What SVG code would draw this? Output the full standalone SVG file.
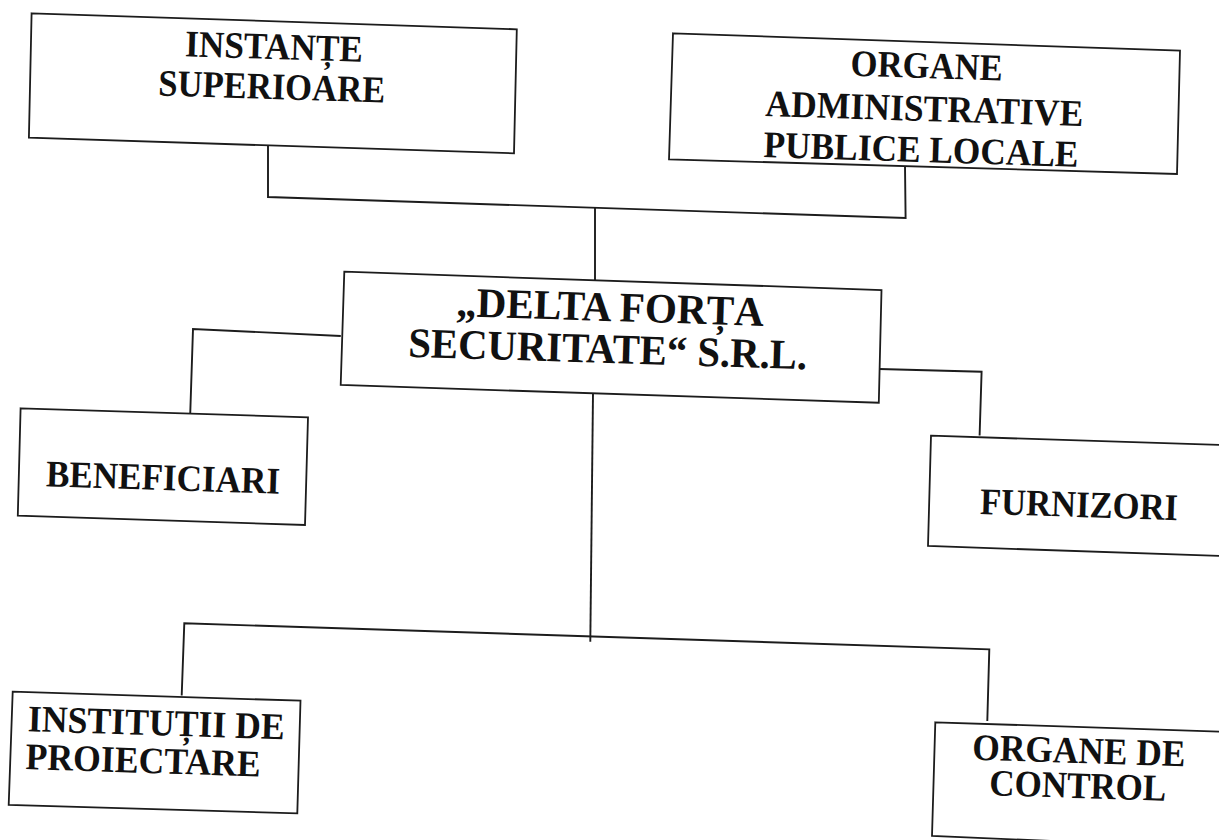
<svg xmlns="http://www.w3.org/2000/svg" width="1219" height="840" viewBox="0 0 1219 840">
<style>
.box{fill:#fff;stroke:#1c1c1c;stroke-width:1.8;stroke-linejoin:miter}
.ln{fill:none;stroke:#1c1c1c;stroke-width:1.9}
.t{font-family:"Liberation Serif","Times New Roman",serif;font-weight:bold;font-size:37.5px;fill:#111;text-anchor:middle}
.big{font-size:42px}
.l{text-anchor:start}
</style>
<rect width="1219" height="840" fill="#fff"/>
<g id="connectors">
<polyline class="ln" points="268,145 268,197 905.6,218 905,166"/>
<line class="ln" x1="595" y1="208" x2="595" y2="280"/>
<polyline class="ln" points="340.8,336 193,329 189.8,426.7"/>
<polyline class="ln" points="879.3,369 981.6,371.7 979.6,435.5"/>
<line class="ln" x1="593" y1="393" x2="590.3" y2="641.7"/>
<polyline class="ln" points="181.7,695.5 184.3,623.3 989.3,649.3 987.3,721"/>
</g>
<g id="instante">
<polygon class="box" points="31.6,13.3 516.8,29.3 514,153.3 28.9,137.7"/>
<g transform="rotate(1.8 272 80)">
<text class="t" x="273" y="59" textLength="178" lengthAdjust="spacingAndGlyphs">INSTANȚE</text>
<text class="t" x="272" y="99" textLength="227" lengthAdjust="spacingAndGlyphs">SUPERIOARE</text>
</g>
</g>
<g id="organe-admin">
<polygon class="box" points="673,33.3 1180,50.7 1177,174 669,159.3"/>
<g transform="rotate(1.8 924 120)">
<text class="t" x="925" y="78" textLength="152" lengthAdjust="spacingAndGlyphs">ORGANE</text>
<text class="t" x="924" y="121" textLength="318" lengthAdjust="spacingAndGlyphs">ADMINISTRATIVE</text>
<text class="t" x="922" y="162" textLength="315" lengthAdjust="spacingAndGlyphs">PUBLICE LOCALE</text>
</g>
</g>
<g id="delta">
<polygon class="box" points="344.3,271.7 881.5,290 878.8,402.7 340.7,385"/>
<g transform="rotate(1.8 609 340)">
<text class="t big" x="609" y="321" textLength="308" lengthAdjust="spacingAndGlyphs">„DELTA FORȚA</text>
<text class="t big" x="608" y="363" textLength="399" lengthAdjust="spacingAndGlyphs">SECURITATE“ S.R.L.</text>
</g>
</g>
<g id="beneficiari">
<polygon class="box" points="20.6,408.3 308,417.3 305,525 17.8,515.7"/>
<text class="t" x="163" y="490" transform="rotate(1.8 163 478)" textLength="234" lengthAdjust="spacingAndGlyphs">BENEFICIARI</text>
</g>
<g id="furnizori">
<polygon class="box" points="931,435.7 1222,445 1222,556 928,546"/>
<text class="t" x="1079" y="517" transform="rotate(1.8 1079 505)" textLength="198" lengthAdjust="spacingAndGlyphs">FURNIZORI</text>
</g>
<g id="institutii">
<polygon class="box" points="12.7,691.7 300.5,700.7 297.3,813.3 8.7,805"/>
<g transform="rotate(1.8 150 750)">
<text class="t l" x="27" y="735" textLength="257" lengthAdjust="spacingAndGlyphs">INSTITUȚII  DE</text>
<text class="t l" x="26" y="773" textLength="235" lengthAdjust="spacingAndGlyphs">PROIECTARE</text>
</g>
</g>
<g id="organe-control">
<polygon class="box" points="935.3,722.3 1222,731.7 1222,848 932,836"/>
<g transform="rotate(1.8 1078 780)">
<text class="t" x="1078" y="763" textLength="213" lengthAdjust="spacingAndGlyphs">ORGANE DE</text>
<text class="t" x="1078" y="798" textLength="177" lengthAdjust="spacingAndGlyphs">CONTROL</text>
</g>
</g>
</svg>
